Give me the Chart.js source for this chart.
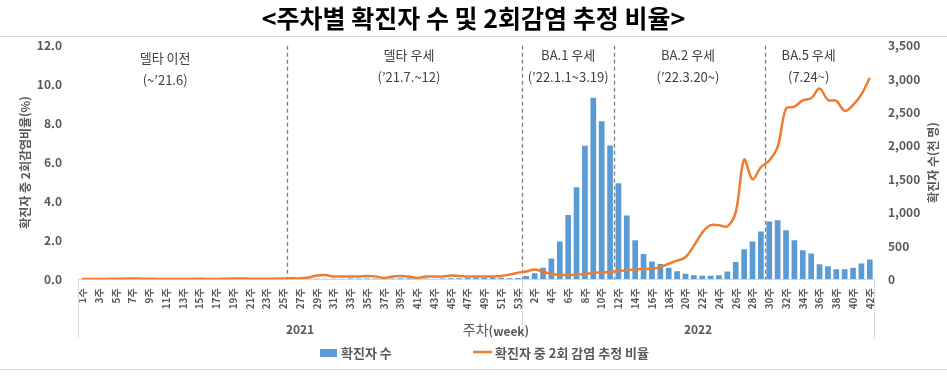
<!DOCTYPE html>
<html lang="ko">
<head>
<meta charset="UTF-8" />
<title>주차별 확진자 수 및 2회감염 추정 비율</title>
<script src="https://cdn.jsdelivr.net/npm/chart.js"></script>
<style>
  body { margin: 0; background: #fff; }
  .container { width: 947px; height: 387px; }
</style>
</head>
<body>
<div class="container"><canvas id="grafico"></canvas></div>
<script>
// categorias: semanas de 2021 (53) e 2022 (42)
const semanas2021 = [
  "1주","2주","3주","4주","5주","6주","7주","8주","9주","10주",
  "11주","12주","13주","14주","15주","16주","17주","18주","19주","20주",
  "21주","22주","23주","24주","25주","26주","27주","28주","29주","30주",
  "31주","32주","33주","34주","35주","36주","37주","38주","39주","40주",
  "41주","42주","43주","44주","45주","46주","47주","48주","49주","50주",
  "51주","52주","53주"
];
const semanas2022 = [
  "1주","2주","3주","4주","5주","6주","7주","8주","9주","10주",
  "11주","12주","13주","14주","15주","16주","17주","18주","19주","20주",
  "21주","22주","23주","24주","25주","26주","27주","28주","29주","30주",
  "31주","32주","33주","34주","35주","36주","37주","38주","39주","40주",
  "41주","42주"
];
const anos = ["2021", "2022"];

// 확진자 수 (천 명)
const casos2021 = [
  5, 4, 3, 3, 3, 3, 3, 3, 3, 3,
  3, 3, 3, 3, 4, 4, 4, 4, 4, 4,
  4, 4, 4, 4, 3, 4, 5, 8, 10, 10,
  10, 10, 12, 12, 12, 12, 12, 13, 17, 16,
  13, 11, 10, 13, 16, 16, 20, 22, 25, 28,
  25, 15, 20
];
const casos2022 = [
  50, 90, 175, 313, 566, 964, 1380, 2000, 2720, 2370,
  2005, 1440, 958, 585, 380, 268, 230, 175, 120, 85,
  60, 55, 55, 60, 118, 258, 450, 565, 715, 865,
  885, 735, 585, 435, 385, 225, 195, 150, 150, 175,
  235, 295
];

// 확진자 중 2회 감염 추정 비율 (%)
const taxa2021 = [
  0.02, 0.02, 0.02, 0.02, 0.03, 0.03, 0.04, 0.03, 0.03, 0.02,
  0.02, 0.02, 0.02, 0.02, 0.03, 0.02, 0.02, 0.03, 0.04, 0.04,
  0.03, 0.03, 0.03, 0.03, 0.04, 0.05, 0.05, 0.09, 0.20, 0.22,
  0.15, 0.14, 0.14, 0.15, 0.17, 0.15, 0.07, 0.14, 0.17, 0.14,
  0.07, 0.14, 0.14, 0.14, 0.19, 0.17, 0.14, 0.14, 0.14, 0.14,
  0.17, 0.24, 0.34
];
const taxa2022 = [
  0.40, 0.51, 0.39, 0.27, 0.22, 0.22, 0.24, 0.27, 0.33, 0.35,
  0.38, 0.43, 0.47, 0.51, 0.53, 0.55, 0.62, 0.80, 0.96, 1.13,
  1.72, 2.40, 2.78, 2.78, 2.72, 3.45, 6.15, 5.14, 5.76, 6.10,
  6.80, 8.78, 8.87, 9.20, 9.30, 9.80, 9.22, 9.17, 8.66, 8.96,
  9.50, 10.36
];

// periodos
const periodos = ["델타 이전", "델타 우세", "BA.1 우세", "BA.2 우세", "BA.5 우세"];
const periodosDatas = ["(~’21.6)", "(’21.7.~12)", "(’22.1.1~3.19)", "(’22.3.20~)", "(7.24~)"];

// posicao dos textos e divisorias (em indice de categoria)
const posPeriodos = [9.9, 39, 58, 72.3, 86.7];
const yPeriodos = [58, 55, 55, 55, 55];
const divisorias = [24.5, 52.5, 63.5, 81.5];

const FONTE = "'Noto Sans CJK KR', 'Noto Sans', sans-serif";
const CINZA = "#595959";
const AZUL = "#5b9bd5";
const LARANJA = "#ed7d31";

Chart.defaults.font.family = FONTE;

const labels = [...semanas2021, ...semanas2022];
const casos = [...casos2021, ...casos2022];
const taxa = [...taxa2021, ...taxa2022];

const decoracao = {
  id: "decoracao",
  beforeDatasetsDraw(chart) {
    const { ctx, chartArea, scales: { x } } = chart;
    ctx.save();
    ctx.strokeStyle = "#7f7f7f";
    ctx.lineWidth = 1.3;
    ctx.setLineDash([4, 3]);
    divisorias.forEach((d) => {
      const px = Math.round(x.getPixelForValue(d)) + 0.5;
      ctx.beginPath();
      ctx.moveTo(px, chartArea.top);
      ctx.lineTo(px, chartArea.bottom);
      ctx.stroke();
    });
    ctx.restore();
  },
  afterDraw(chart) {
    const { ctx, chartArea, scales: { x } } = chart;
    const w = chart.width;
    ctx.save();

    // bordas de cima e de baixo
    ctx.strokeStyle = "#d9d9d9";
    ctx.lineWidth = 1;
    ctx.beginPath();
    ctx.moveTo(0, 36.5); ctx.lineTo(w, 36.5);
    ctx.moveTo(0, 369.5); ctx.lineTo(w, 369.5);
    ctx.stroke();

    // textos dos periodos
    ctx.fillStyle = "#404040";
    ctx.font = "13px " + FONTE;
    ctx.textAlign = "center";
    ctx.textBaseline = "middle";
    periodos.forEach((p, i) => {
      const px = x.getPixelForValue(posPeriodos[i]);
      ctx.fillText(p, px, yPeriodos[i]);
      ctx.fillText(periodosDatas[i], px, yPeriodos[i] + 22);
    });

    // separadores de ano
    const n21 = semanas2021.length;
    const n = labels.length;
    ctx.strokeStyle = "#d9d9d9";
    ctx.beginPath();
    [-0.5, n21 - 0.5, n - 0.5].forEach((v) => {
      const px = Math.round(x.getPixelForValue(v)) + 0.5;
      ctx.moveTo(px, chartArea.bottom);
      ctx.lineTo(px, 338);
    });
    ctx.stroke();

    ctx.fillStyle = CINZA;
    ctx.font = "bold 12px " + FONTE;
    ctx.fillText(anos[0], x.getPixelForValue((n21 - 1) / 2), 329);
    ctx.fillText(anos[1], x.getPixelForValue((n21 + n - 1) / 2), 329);

    // titulo do eixo x
    ctx.textAlign = "left";
    ctx.font = "14px " + FONTE;
    const t1 = "주차";
    const w1 = ctx.measureText(t1).width;
    ctx.font = "bold 12px " + FONTE;
    const t2 = "(week)";
    const w2 = ctx.measureText(t2).width;
    const x0 = 496 - (w1 + w2) / 2;
    ctx.font = "14px " + FONTE;
    ctx.fillText(t1, x0, 330);
    ctx.font = "bold 12px " + FONTE;
    ctx.fillText(t2, x0 + w1, 331);

    // titulo do eixo da direita
    ctx.save();
    ctx.translate(933, (chartArea.top + chartArea.bottom) / 2);
    ctx.rotate(-Math.PI / 2);
    ctx.textAlign = "center";
    ctx.fillText("확진자 수(천 명)", 0, 0);
    ctx.restore();

    // legenda
    const ds = chart.data.datasets;
    ctx.font = "bold 13px " + FONTE;
    ctx.fillStyle = AZUL;
    ctx.fillRect(320, 349, 17, 8);
    ctx.fillStyle = CINZA;
    ctx.fillText(ds[0].label, 341, 353);
    ctx.strokeStyle = LARANJA;
    ctx.lineWidth = 2.5;
    ctx.beginPath();
    ctx.moveTo(473, 352);
    ctx.lineTo(492, 352);
    ctx.stroke();
    ctx.fillText(ds[1].label, 495, 353);

    ctx.restore();
  },
};

const ctx = document.getElementById("grafico").getContext("2d");
new Chart(ctx, {
  type: "bar",
  data: {
    labels: labels,
    datasets: [
      {
        label: "확진자 수",
        data: casos,
        backgroundColor: AZUL,
        yAxisID: "y1",
        order: 1,
        barPercentage: 0.68,
        categoryPercentage: 1,
      },
      {
        type: "line",
        label: "확진자 중 2회 감염 추정 비율",
        data: taxa,
        borderColor: LARANJA,
        borderWidth: 2.5,
        pointRadius: 0,
        tension: 0.35,
        yAxisID: "y",
        order: 0,
      },
    ],
  },
  options: {
    responsive: true,
    maintainAspectRatio: false,
    animation: false,
    layout: { padding: { left: 0, right: 0, top: 0, bottom: 50.7 } },
    plugins: {
      legend: { display: false },
      tooltip: { enabled: false },
      title: {
        display: true,
        text: "<주차별 확진자 수 및 2회감염 추정 비율>",
        color: "#000",
        font: { size: 25, weight: "bold" },
        padding: { top: 3, bottom: 12.8 },
      },
    },
    scales: {
      x: {
        grid: { display: false, drawTicks: false },
        border: { display: true, color: "#d9d9d9" },
        ticks: {
          autoSkip: false,
          minRotation: 90,
          maxRotation: 90,
          padding: 9,
          color: CINZA,
          font: { size: 10, weight: "bold" },
          callback: function (val, idx) {
            return idx % 2 === 0 ? this.getLabelForValue(val) : "";
          },
        },
        afterFit: (scale) => { scale.height = 57; },
      },
      y: {
        position: "left",
        min: 0,
        max: 12,
        grid: { display: false, drawTicks: false },
        border: { display: false },
        ticks: {
          stepSize: 2,
          padding: 16,
          color: CINZA,
          font: { size: 12, weight: "bold" },
          callback: (v) => v.toFixed(1),
        },
        title: {
          display: true,
          text: "확진자 중 2회감염비율(%)",
          color: CINZA,
          font: { size: 12, weight: "bold" },
          padding: { top: 18, bottom: 0 },
        },
        afterFit: (scale) => { scale.width = 78; },
      },
      y1: {
        position: "right",
        min: 0,
        max: 3500,
        grid: { display: false, drawTicks: false },
        border: { display: false },
        ticks: {
          stepSize: 500,
          padding: 14,
          color: CINZA,
          font: { size: 12, weight: "bold" },
          callback: (v) => v.toLocaleString("en-US"),
        },
        afterFit: (scale) => { scale.width = 73; },
      },
    },
  },
  plugins: [decoracao],
});
</script>
</body>
</html>
